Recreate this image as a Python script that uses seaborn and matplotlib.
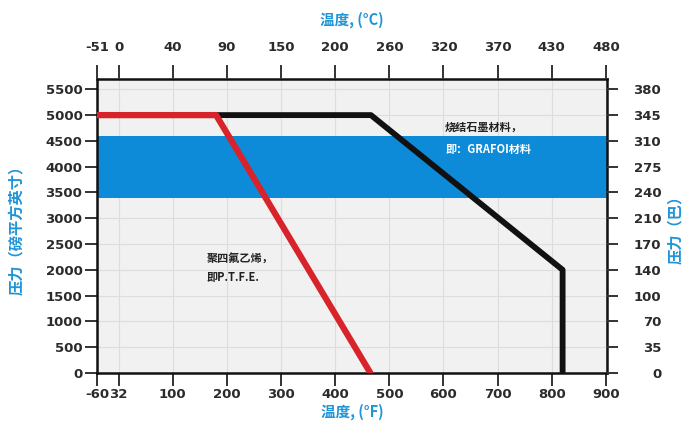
import numpy as np
import pandas as pd
import matplotlib
matplotlib.use("Agg")
import matplotlib.pyplot as plt
import seaborn as sns

sns.set_theme(style="white")
plt.rcParams["font.family"] = ["DejaVu Sans"]

# temperature ticks (bottom in F, top in C)
temp_f = [-60, 32, 100, 200, 300, 400, 500, 600, 700, 800, 900]
temp_c = [-51, 0, 40, 90, 150, 200, 260, 320, 370, 430, 480]

# pressure ticks (left in psi, right in bar)
psi_ticks = [0, 500, 1000, 1500, 2000, 2500, 3000, 3500, 4000, 4500, 5000, 5500]
bar_labels = [0, 35, 70, 100, 140, 170, 210, 240, 275, 310, 345, 380]

# PTFE curve
ptfe_f = [-60, 180, 465]
ptfe_psi = [5000, 5000, 0]

# Grafoil curve
grafoil_f = [-60, 466, 820, 820]
grafoil_psi = [5000, 5000, 2000, 0]

# blue band (psi)
band = [3400, 4600]

CJK = ["Noto Sans CJK SC", "DejaVu Sans"]
BLUE_TXT = "#1f94d6"
TICK_C = "#2b2b2b"

# the reference axis is squeezed below 100 F
scale_src = [-60, 32, 100, 1000]
scale_dst = [-40, 0, 100, 1000]


def fwd(x):
    return np.interp(x, scale_src, scale_dst)


def inv(x):
    return np.interp(x, scale_dst, scale_src)


ptfe = pd.DataFrame({"f": ptfe_f, "psi": ptfe_psi})
grafoil = pd.DataFrame({"f": grafoil_f, "psi": grafoil_psi})

fig = plt.figure(figsize=(6.84, 4.28), dpi=100)
ax = fig.add_axes([97 / 684, 1 - 373 / 428, 510 / 684, 294 / 428])
ax.set_facecolor("#f1f1f1")

ax.set_xscale("function", functions=(fwd, inv))
ax.set_xlim(-60, 902)
ax.set_ylim(0, 5700)

ax.set_axisbelow(True)
ax.grid(True, color="#dddddd", linewidth=0.8)
ax.axhspan(band[0], band[1], color="#0d8bd9", lw=0, zorder=1)

sns.lineplot(data=grafoil, x="f", y="psi", sort=False, estimator=None,
             color="#111111", linewidth=4.2, ax=ax, zorder=3)
sns.lineplot(data=ptfe, x="f", y="psi", sort=False, estimator=None,
             color="#d8232a", linewidth=4.5, ax=ax, zorder=4)

ax.set_xticks(temp_f)
ax.set_xticklabels([str(v) for v in temp_f])
ax.set_yticks(psi_ticks)
ax.set_yticklabels([str(v) for v in psi_ticks])
ax.tick_params(axis="both", length=9, width=1.4, color="#333333",
               labelsize=9.5, labelcolor=TICK_C, pad=1.5,
               bottom=True, left=True)
for lab in ax.get_xticklabels() + ax.get_yticklabels():
    lab.set_fontweight("bold")
ax.set_xlabel("温度, (°F)", family=CJK, fontsize=10.5, fontweight="bold",
              color=BLUE_TXT, labelpad=2)
ax.set_ylabel("压力（磅平方英寸）", family=CJK, fontsize=11, fontweight="bold",
              color=BLUE_TXT, va="center")
ax.yaxis.set_label_coords(-0.157, 0.5)

for side in ax.spines.values():
    side.set_color("#111111")
    side.set_linewidth(1.8)

# top axis in C
ax_top = ax.twiny()
ax_top.set_xscale("function", functions=(fwd, inv))
ax_top.set_xlim(ax.get_xlim())
ax_top.set_xticks(temp_f)
ax_top.set_xticklabels([str(v) for v in temp_c])
ax_top.tick_params(axis="x", length=10, width=1.4, color="#333333",
                   labelsize=9.5, labelcolor=TICK_C, pad=8, top=True)
for lab in ax_top.get_xticklabels():
    lab.set_fontweight("bold")
ax_top.set_xlabel("温度, (°C)", family=CJK, fontsize=10.5, fontweight="bold",
                  color=BLUE_TXT, labelpad=12)

# right axis in bar
ax_r = ax.twinx()
ax_r.set_ylim(ax.get_ylim())
ax_r.set_yticks(psi_ticks)
ax_r.set_yticklabels([str(v) for v in bar_labels])
ax_r.tick_params(axis="y", length=8, width=1.4, color="#333333",
                 labelsize=9.5, labelcolor=TICK_C, pad=31, right=True)
for lab in ax_r.get_yticklabels():
    lab.set_fontweight("bold")
    lab.set_horizontalalignment("right")
ax_r.set_ylabel("压力（巴）", family=CJK, fontsize=11, fontweight="bold",
                color=BLUE_TXT, va="center")
ax_r.yaxis.set_label_coords(1.133, 0.5)
for a in (ax_top, ax_r):
    for side in a.spines.values():
        side.set_visible(False)

# annotations
ax.text(163, 2230, "聚四氟乙烯，", family=CJK, fontsize=8, fontweight="bold",
        color="#222222", va="center", ha="left", zorder=5)
ax.text(163, 1850, "即P.T.F.E.", family=CJK, fontsize=8, fontweight="bold",
        color="#222222", va="center", ha="left", zorder=5)
ax.text(603, 4770, "烧结石墨材料，", family=CJK, fontsize=8, fontweight="bold",
        color="#222222", va="center", ha="left", zorder=5)
ax.text(603, 4340, "即：GRAFOI材料", family=CJK, fontsize=8, fontweight="bold",
        color="white", va="center", ha="left", zorder=5)

fig.savefig("out.png", dpi=100)
